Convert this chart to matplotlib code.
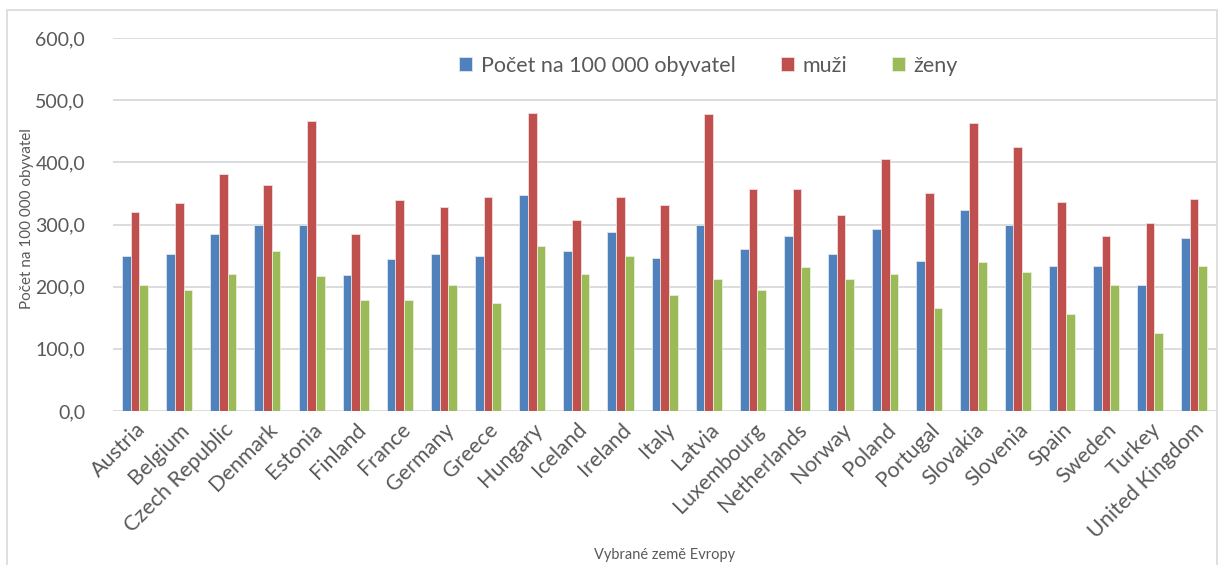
import numpy as np
import matplotlib.pyplot as plt
from matplotlib.patches import Rectangle

# per-country rates
countries = ['Austria', 'Belgium', 'Czech Republic', 'Denmark', 'Estonia', 'Finland',
             'France', 'Germany', 'Greece', 'Hungary', 'Iceland', 'Ireland', 'Italy',
             'Latvia', 'Luxembourg', 'Netherlands', 'Norway', 'Poland', 'Portugal',
             'Slovakia', 'Slovenia', 'Spain', 'Sweden', 'Turkey', 'United Kingdom']
celkem = [249, 252, 284, 300, 299, 218, 245, 253, 249, 348, 258, 288, 246,
          299, 261, 282, 252, 292, 242, 324, 300, 233, 234, 202, 278]
muzi = [320, 334, 382, 363, 467, 284, 340, 328, 345, 479, 308, 345, 332,
        477, 357, 357, 315, 406, 350, 464, 424, 337, 282, 302, 341]
zeny = [202, 195, 220, 258, 217, 178, 178, 202, 173, 266, 221, 249, 187,
        212, 194, 232, 212, 221, 166, 239, 224, 156, 203, 126, 234]
yticks = [0, 100, 200, 300, 400, 500, 600]

plt.rcParams['font.family'] = ['Lato', 'DejaVu Sans']
txt = '#595959'

fig = plt.figure(figsize=(12.19, 5.65), dpi=100)
ax = fig.add_axes([0.0927, 0.2726, 0.905, 0.6601])

x = np.arange(len(countries))
w = 0.197
ax.bar(x - w, celkem, w, color='#4F81BD', edgecolor='#dfe6f0', linewidth=0.6,
       label='Počet na 100 000 obyvatel', zorder=3)
ax.bar(x, muzi, w, color='#C0504D', edgecolor='#f0dcdc', linewidth=0.6,
       label='muži', zorder=3)
ax.bar(x + w, zeny, w, color='#9BBB59', edgecolor='#e8efdc', linewidth=0.6,
       label='ženy', zorder=3)

ax.set_xlim(-0.5, len(countries) - 0.5)
ax.set_ylim(0, 600)
ax.set_yticks(yticks)
ax.set_yticklabels([('%.1f' % v).replace('.', ',') for v in yticks],
                   fontsize=14, color=txt)
ax.grid(axis='y', color='#d9d9d9', linewidth=1.3, zorder=0)
for s in ax.spines.values():
    s.set_visible(False)
ax.tick_params(axis='both', length=0)
ax.tick_params(axis='y', pad=20)

ax.set_xticks(x)
ax.set_xticklabels(countries, rotation=45, ha='right', rotation_mode='anchor',
                   fontsize=15.5, color=txt)
ax.tick_params(axis='x', pad=6)

ax.set_ylabel('Počet na 100 000 obyvatel', fontsize=11, color=txt)
ax.yaxis.set_label_coords(-0.072, 0.515)
fig.text(0.545, 0.018, 'Vybrané země Evropy', fontsize=10.5, color=txt,
         ha='center', va='center')

leg = ax.legend(loc='upper center', bbox_to_anchor=(0.54, 1.005), ncol=3,
                frameon=False, fontsize=15.5, handlelength=0.6, handleheight=0.6,
                handletextpad=0.4, columnspacing=2.1)
for t in leg.get_texts():
    t.set_color(txt)

# outer chart frame
fig.patches.append(Rectangle((7 / 1219, -0.01), 1210 / 1219, 1 - 10 / 565 + 0.01,
                             transform=fig.transFigure, fill=False,
                             edgecolor='#d9d9d9', linewidth=1.2))

fig.savefig('out.png', dpi=100)
